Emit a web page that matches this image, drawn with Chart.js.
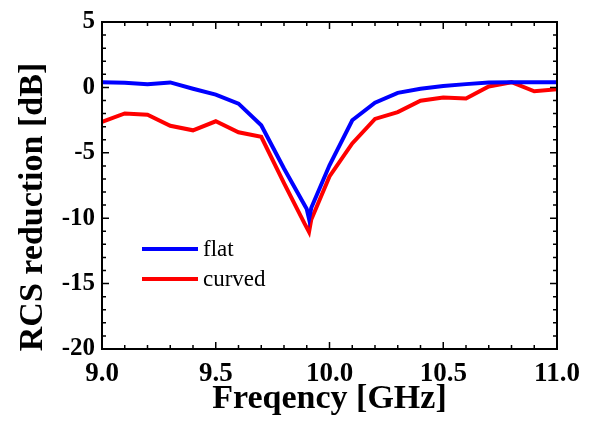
<!DOCTYPE html>
<html>
<head>
<meta charset="utf-8">
<script src="https://cdn.jsdelivr.net/npm/chart.js@4"></script>
<style>
html,body{margin:0;padding:0;background:#fff;}
#wrap{width:592px;height:421px;position:relative;}
</style>
</head>
<body>
<div id="wrap"><canvas id="c" width="592" height="421"></canvas></div>
<script>
// ---- data ----
const freqFlat   = [9.0, 9.1, 9.2, 9.3, 9.4, 9.5, 9.6, 9.7, 9.8, 9.9, 9.91, 9.92, 10.0, 10.1, 10.2, 10.3, 10.4, 10.5, 10.6, 10.7, 10.8, 10.9, 11.0];
const flatValues = [0.4, 0.35, 0.25, 0.38, -0.1, -0.55, -1.24, -2.89, -6.2, -9.3, -10.05, -9.2, -5.95, -2.51, -1.17, -0.42, -0.1, 0.1, 0.25, 0.37, 0.4, 0.4, 0.4];
const freqCurved   = [9.0, 9.1, 9.2, 9.3, 9.4, 9.5, 9.6, 9.7, 9.8, 9.89, 9.91, 9.92, 10.0, 10.1, 10.2, 10.3, 10.4, 10.5, 10.6, 10.7, 10.8, 10.9, 11.0];
const curvedValues = [-2.64, -1.99, -2.09, -2.93, -3.28, -2.59, -3.43, -3.78, -7.31, -10.4, -11.05, -10.1, -6.81, -4.28, -2.41, -1.89, -1.02, -0.77, -0.85, 0.07, 0.4, -0.3, -0.15];
const seriesNames = ['flat', 'curved'];
const xTickLabels = ['9.0', '9.5', '10.0', '10.5', '11.0'];
const xTitle = 'Freqency [GHz]';
const yTitle = 'RCS reduction [dB]';

const FONT = '"Liberation Serif", "Times New Roman", serif';

function pts(xs, ys){ return xs.map((x,i)=>({x:x, y:ys[i]})); }

const framePlugin = {
  id: 'frame',
  afterDraw(chart){
    const ctx = chart.ctx, a = chart.chartArea;
    const xs = chart.scales.x, ys = chart.scales.y;
    ctx.save();
    ctx.strokeStyle = '#000';
    ctx.lineWidth = 1.5;
    function tickX(v, len){
      const p = xs.getPixelForValue(v);
      ctx.beginPath();
      ctx.moveTo(p, a.bottom); ctx.lineTo(p, a.bottom - len);
      ctx.moveTo(p, a.top); ctx.lineTo(p, a.top + len);
      ctx.stroke();
    }
    function tickY(v, len){
      const p = ys.getPixelForValue(v);
      ctx.beginPath();
      ctx.moveTo(a.left, p); ctx.lineTo(a.left + len, p);
      ctx.moveTo(a.right, p); ctx.lineTo(a.right - len, p);
      ctx.stroke();
    }
    for (let i = 0; i <= 20; i++) {
      tickX(xs.min + i * 0.1, (i % 5 === 0) ? 7 : 4);
    }
    for (let i = 0; i <= 25; i++) {
      tickY(ys.min + i, (i % 5 === 0) ? 7 : 4);
    }
    ctx.lineWidth = 2;
    ctx.strokeRect(a.left, a.top, a.right - a.left, a.bottom - a.top);

    ctx.fillStyle = '#000';
    ctx.font = 'bold 34px ' + FONT;
    ctx.textAlign = 'center';
    ctx.textBaseline = 'middle';
    ctx.fillText(xTitle, (a.left + a.right) / 2, 399);
    ctx.save();
    ctx.translate(33, 207);
    ctx.rotate(-Math.PI / 2);
    ctx.fillText(yTitle, 0, 0);
    ctx.restore();

    ctx.font = '23px ' + FONT;
    ctx.textAlign = 'left';
    chart.data.datasets.forEach((ds, i) => {
      const y = 249 + i * 30;
      ctx.strokeStyle = ds.borderColor;
      ctx.lineWidth = 4;
      ctx.beginPath();
      ctx.moveTo(142, y); ctx.lineTo(198, y);
      ctx.stroke();
      ctx.fillStyle = '#000';
      ctx.fillText(ds.label, 203, y + 1);
    });
    ctx.restore();
  }
};

new Chart(document.getElementById('c'), {
  type: 'line',
  data: {
    datasets: [
      { label: seriesNames[0], data: pts(freqFlat, flatValues), borderColor: '#0000FF', backgroundColor: '#0000FF', borderWidth: 4, pointRadius: 0, tension: 0, fill: false },
      { label: seriesNames[1], data: pts(freqCurved, curvedValues), borderColor: '#FF0000', backgroundColor: '#FF0000', borderWidth: 4, pointRadius: 0, tension: 0, fill: false }
    ]
  },
  options: {
    responsive: false,
    animation: false,
    devicePixelRatio: 1,
    layout: { padding: { left: 0, right: 35, top: 15, bottom: 0 } },
    plugins: { legend: { display: false }, tooltip: { enabled: false } },
    scales: {
      x: {
        type: 'linear', min: 9.0, max: 11.0,
        grid: { display: false, drawTicks: false },
        border: { display: false },
        ticks: {
          stepSize: 0.5, padding: 9, color: '#000',
          font: { family: FONT, size: 27, weight: 'bold' },
          maxRotation: 0, autoSkip: false,
          callback: (v, i) => xTickLabels[i]
        },
        afterFit(s){ s.height = 72; }
      },
      y: {
        type: 'linear', min: -20, max: 5,
        grid: { display: false, drawTicks: false },
        border: { display: false },
        ticks: {
          stepSize: 5, padding: 7, color: '#000',
          font: { family: FONT, size: 25, weight: 'bold' }
        },
        afterFit(s){ s.width = 102; }
      }
    }
  },
  plugins: [framePlugin]
});
</script>
</body>
</html>
